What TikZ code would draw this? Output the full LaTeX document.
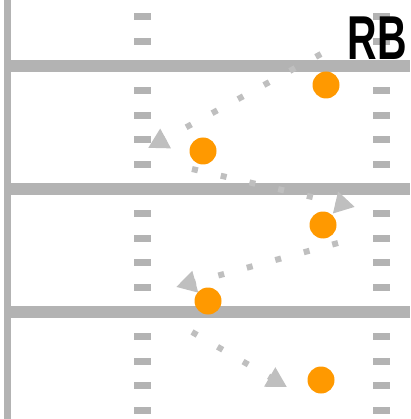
\documentclass[tikz,border=0pt]{standalone}
\usepackage{fontspec}
\usepackage{xcolor}
\usepackage{tikz}
\usetikzlibrary{arrows.meta, calc}
\newfontfamily\labelfont{Liberation Sans}
\definecolor{fieldline}{HTML}{B3B3B3}
\definecolor{routeline}{HTML}{BFBFBF}
\definecolor{player}{HTML}{FF9900}
\tikzset{
    yardline/.style={draw=fieldline, line width=12pt},
    sideline/.style={draw=fieldline, line width=7pt},
    hashmark/.style={fill=fieldline},
    playerdot/.style={circle, fill=player, minimum size=27pt, inner sep=0pt},
    route/.style={draw=routeline, line width=6pt, dash pattern=on 6pt off 23.5pt,
                  -{Triangle[length=20pt, width=21pt]}},
    poslabel/.style={font=\labelfont\bfseries\fontsize{62}{62}\selectfont, text=black,
                     inner sep=0pt},
}

\begin{document}
\begin{tikzpicture}[x=1pt, y=-1pt]

  \useasboundingbox (0,0) rectangle (410,419);

  % field
  \draw[sideline] (7.5,0) -- (7.5,419);
  \foreach \k in {0,1,2} {
    \draw[yardline] (11,{66+123*\k}) -- (410,{66+123*\k});
  }
  \foreach \j in {-2,-1,1,2,3,4,6,7,8,9,11,12,13,14} {
    \fill[hashmark] (134,{66+24.6*\j-3.5}) rectangle ++(17,7);
    \fill[hashmark] (373,{66+24.6*\j-3.5}) rectangle ++(17,7);
  }

  % route ends
  \coordinate (r1a) at (321,54);   \coordinate (r1b) at (148,148);
  \coordinate (r2a) at (192,169);  \coordinate (r2b) at (355,207);
  \coordinate (r3a) at (338,243);  \coordinate (r3b) at (176,287);
  \coordinate (r4a) at (192,332);  \coordinate (r4b) at (287,387);

  \draw[route] (r1a) -- (r1b);
  \draw[route] (r2a) -- (r2b);
  \draw[route] (r3a) -- (r3b);
  \draw[route] (r4a) -- (r4b);

  % positions of the back
  \node[playerdot] (p1) at (326,85) {};
  \node[playerdot] (p2) at (203,151) {};
  \node[playerdot] (p3) at (323,225) {};
  \node[playerdot] (p4) at (208,301) {};
  \node[playerdot] (p5) at (321,380) {};

  \node[poslabel] (rb) at (377.5,38) {\scalebox{0.66}[1]{RB}};

\end{tikzpicture}
\end{document}
